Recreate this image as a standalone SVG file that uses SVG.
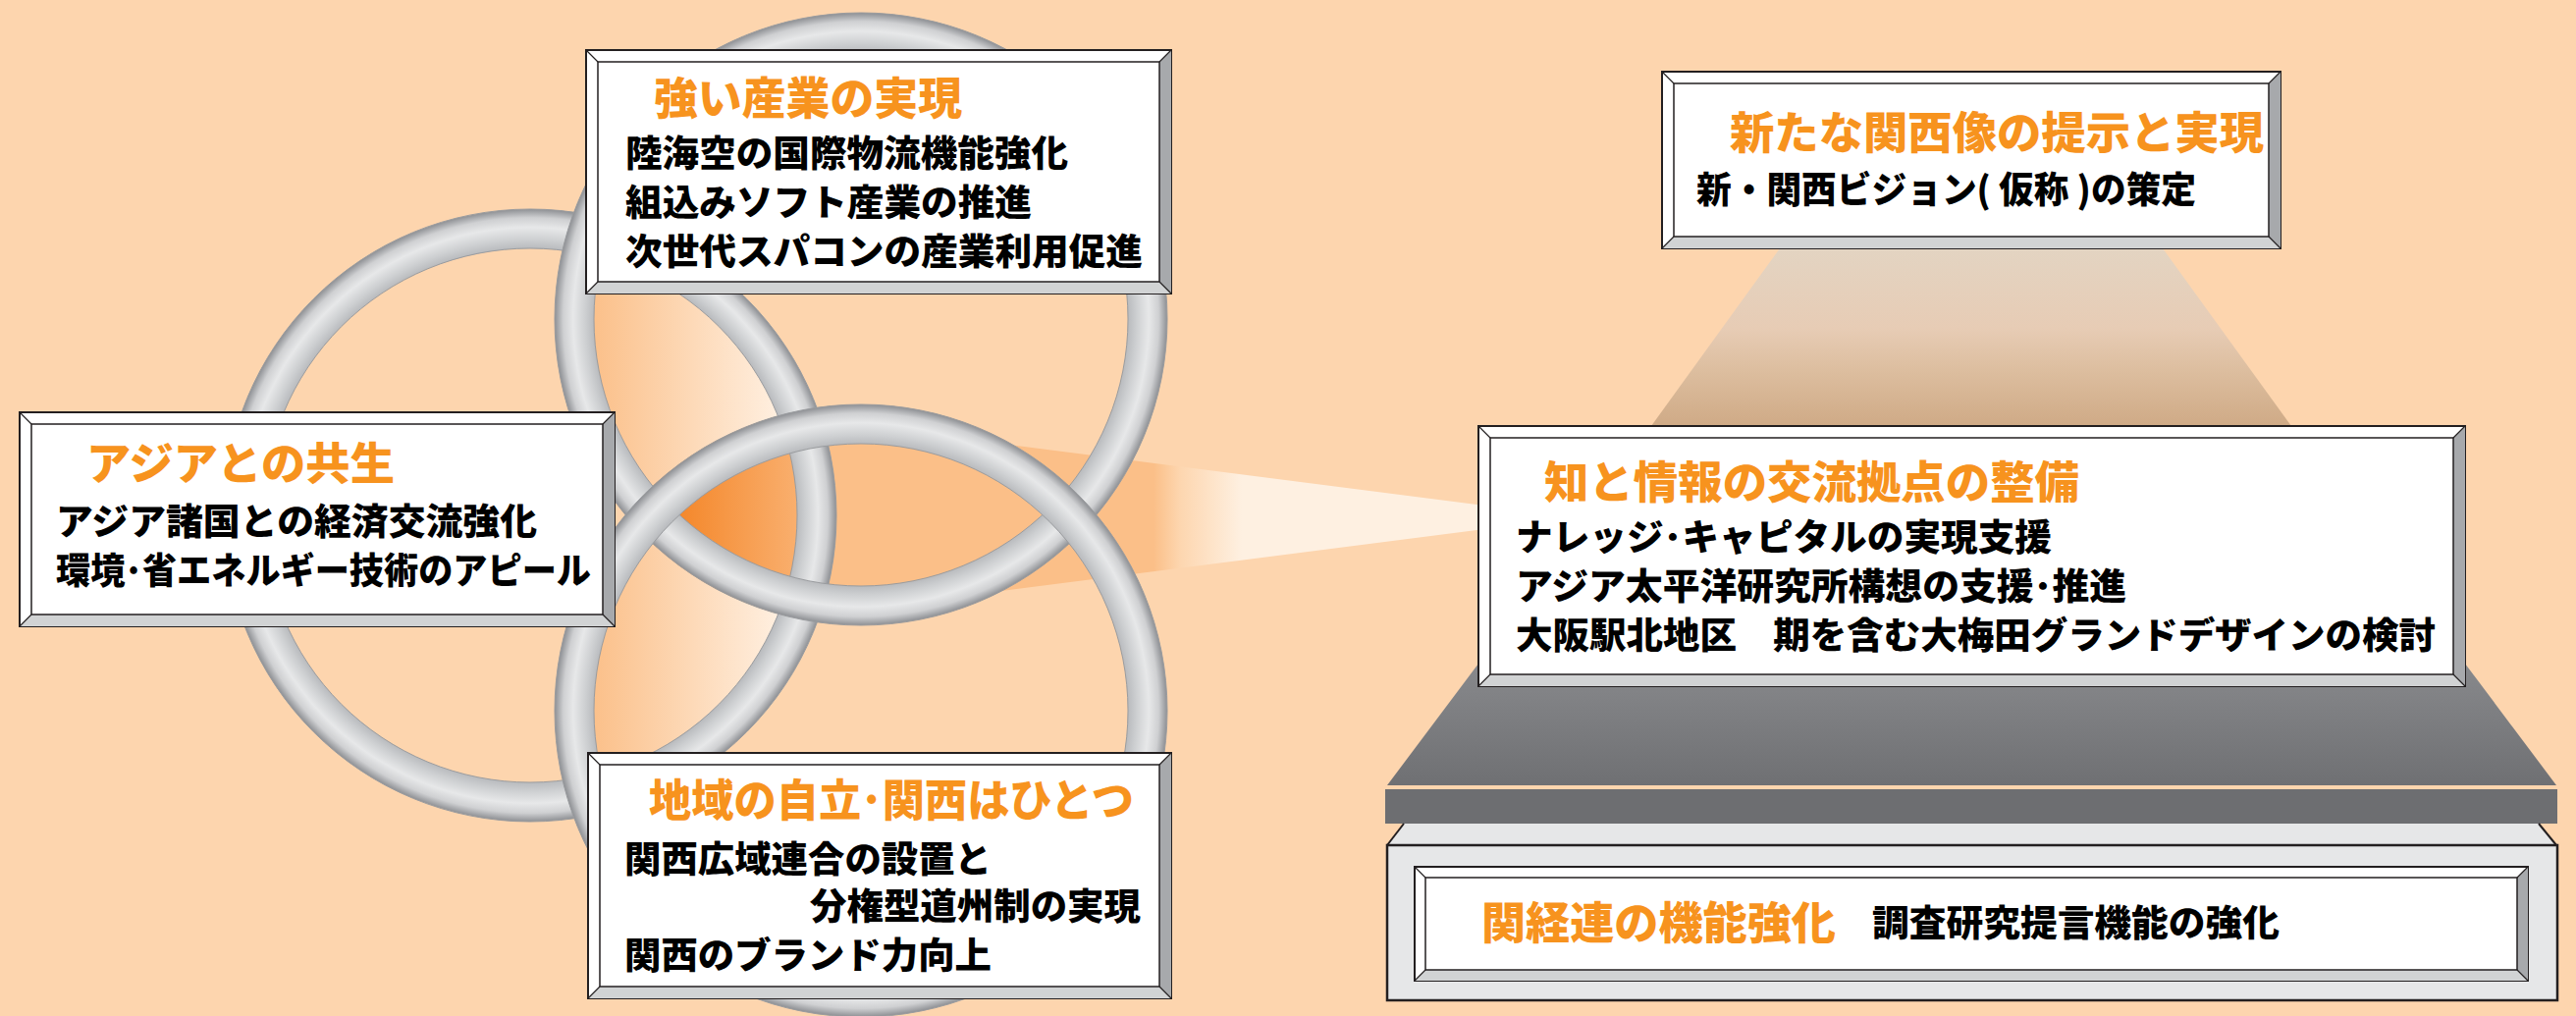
<svg xmlns="http://www.w3.org/2000/svg" width="2624" height="1035" viewBox="0 0 2624 1035">
<defs>
<style>
.frame{fill:#fff;stroke:#231f20;stroke-width:2}
.bevr{fill:#a7a9ac}
.bevb{fill:#d1d3d4}
.inner{fill:#fff;stroke:#231f20;stroke-width:1.5}
.diag{stroke:#231f20;stroke-width:1.2}
.t{font-family:"Noto Sans CJK JP","Noto Sans CJK SC",sans-serif;font-weight:900}
.ttl{fill:#F7931E;font-size:45px}
.txt{fill:#000;font-size:37px}
.ring{fill:none;stroke:url(#ringG);stroke-width:40}
.rline{fill:none;stroke:#9a9c9f;stroke-width:1}
</style>
<radialGradient id="ringG" cx="0.5" cy="0.5" r="0.5342">
<stop offset="0.872" stop-color="#b9bbbe"/>
<stop offset="0.9" stop-color="#cdcfd1"/>
<stop offset="0.94" stop-color="#e7e8e9"/>
<stop offset="0.972" stop-color="#cfd0d2"/>
<stop offset="1" stop-color="#8e9094"/>
</radialGradient>
<linearGradient id="lensLight" gradientUnits="userSpaceOnUse" x1="600" y1="0" x2="805" y2="0">
<stop offset="0" stop-color="#FBBF88"/>
<stop offset="1" stop-color="#FFF2E5"/>
</linearGradient>
<linearGradient id="lensDeep" gradientUnits="userSpaceOnUse" x1="690" y1="0" x2="812" y2="0">
<stop offset="0" stop-color="#F4872A"/>
<stop offset="1" stop-color="#F9AF6E"/>
</linearGradient>
<linearGradient id="beamG" gradientUnits="userSpaceOnUse" x1="1175" y1="0" x2="1265" y2="0">
<stop offset="0" stop-color="#FBBF88"/>
<stop offset="0.3" stop-color="#FDD6AF"/>
<stop offset="1" stop-color="#FEF0E1"/>
</linearGradient>
<linearGradient id="tanG" gradientUnits="userSpaceOnUse" x1="0" y1="253" x2="0" y2="434">
<stop offset="0" stop-color="#E3D4C2"/>
<stop offset="0.45" stop-color="#E7CCB5"/>
<stop offset="0.7" stop-color="#DCBD9E"/>
<stop offset="1" stop-color="#CFAA86"/>
</linearGradient>
<linearGradient id="grayG" gradientUnits="userSpaceOnUse" x1="0" y1="660" x2="0" y2="800">
<stop offset="0" stop-color="#8B8C8F"/>
<stop offset="1" stop-color="#6F7073"/>
</linearGradient>
<clipPath id="cTop"><circle cx="877" cy="325" r="312"/></clipPath>
<clipPath id="cBot"><circle cx="877" cy="724" r="312"/></clipPath>
</defs>

<rect x="0" y="0" width="2624" height="1035" fill="#FDD5AE"/>

<g id="connectors">
<polygon points="880,434 1512,515 1512,539 880,620" fill="url(#beamG)"/>
</g>

<g id="venn">
<g clip-path="url(#cTop)"><circle cx="877" cy="724" r="312" fill="#FBBF88"/></g>
<g clip-path="url(#cTop)"><circle cx="540" cy="525" r="312" fill="url(#lensLight)"/></g>
<g clip-path="url(#cBot)"><circle cx="540" cy="525" r="312" fill="url(#lensLight)"/></g>
<g clip-path="url(#cTop)"><g clip-path="url(#cBot)"><circle cx="540" cy="525" r="312" fill="url(#lensDeep)"/></g></g>
<g id="ring-left">
<circle class="ring" cx="540" cy="525" r="292"/>
<circle class="rline" cx="540" cy="525" r="312"/>
<circle class="rline" cx="540" cy="525" r="272"/>
</g>
<g id="ring-top">
<circle class="ring" cx="877" cy="325" r="292"/>
<circle class="rline" cx="877" cy="325" r="312"/>
<circle class="rline" cx="877" cy="325" r="272"/>
</g>
<g id="ring-bottom">
<circle class="ring" cx="877" cy="724" r="292"/>
<circle class="rline" cx="877" cy="724" r="312"/>
<circle class="rline" cx="877" cy="724" r="272"/>
</g>
</g>

<g id="platform">
<polygon points="1813,253 2203,253 2334,434 1682,434" fill="url(#tanG)"/>
<polygon points="1518,660 2499,660 2604,800 1413,800" fill="url(#grayG)"/>
<rect x="1411" y="804" width="1194" height="35" fill="#6D6E71"/>
<polygon points="1430,839 2586,839 2604,861 1413,861" fill="#E6E7E8"/>
<line x1="1430" y1="839" x2="1413" y2="861" stroke="#231f20" stroke-width="2"/>
<line x1="2586" y1="839" x2="2604" y2="861" stroke="#231f20" stroke-width="2"/>
<rect x="1413" y="861" width="1192" height="158" fill="#E6E7E8" stroke="#231f20" stroke-width="2.5"/>
</g>

<g id="node-industry">
<rect class="frame" x="597" y="51" width="596" height="248"/>
<polygon class="bevr" points="1193,51 1193,299 1181,287 1181,63"/>
<polygon class="bevb" points="597,299 1193,299 1181,287 609,287"/>
<rect class="inner" x="609" y="63" width="572" height="224"/>
<path class="diag" d="M597,51L609,63M1193,51L1181,63M597,299L609,287M1193,299L1181,287"/>
<text class="t ttl" x="666" y="117" textLength="314" lengthAdjust="spacingAndGlyphs">強い産業の実現</text>
<text class="t txt" x="637" y="170" textLength="451" lengthAdjust="spacingAndGlyphs">陸海空の国際物流機能強化</text>
<text class="t txt" x="637" y="220" textLength="414" lengthAdjust="spacingAndGlyphs">組込みソフト産業の推進</text>
<text class="t txt" x="637" y="270" textLength="527" lengthAdjust="spacingAndGlyphs">次世代スパコンの産業利用促進</text>
</g>

<g id="node-asia">
<rect class="frame" x="20" y="420" width="606" height="218"/>
<polygon class="bevr" points="626,420 626,638 614,626 614,432"/>
<polygon class="bevb" points="20,638 626,638 614,626 32,626"/>
<rect class="inner" x="32" y="432" width="582" height="194"/>
<path class="diag" d="M20,420L32,432M626,420L614,432M20,638L32,626M626,638L614,626"/>
<text class="t ttl" x="88" y="489" textLength="314" lengthAdjust="spacingAndGlyphs">アジアとの共生</text>
<text class="t txt" x="57" y="545" textLength="490" lengthAdjust="spacingAndGlyphs">アジア諸国との経済交流強化</text>
<text class="t txt" x="57" y="595" textLength="545" lengthAdjust="spacingAndGlyphs">環境･省エネルギー技術のアピール</text>
</g>

<g id="node-region">
<rect class="frame" x="599" y="767" width="594" height="250"/>
<polygon class="bevr" points="1193,767 1193,1017 1181,1005 1181,779"/>
<polygon class="bevb" points="599,1017 1193,1017 1181,1005 611,1005"/>
<rect class="inner" x="611" y="779" width="570" height="226"/>
<path class="diag" d="M599,767L611,779M1193,767L1181,779M599,1017L611,1005M1193,1017L1181,1005"/>
<text class="t ttl" x="661" y="832" textLength="494" lengthAdjust="spacingAndGlyphs">地域の自立･関西はひとつ</text>
<text class="t txt" x="636" y="889" textLength="374" lengthAdjust="spacingAndGlyphs">関西広域連合の設置と</text>
<text class="t txt" x="825" y="937" textLength="337" lengthAdjust="spacingAndGlyphs">分権型道州制の実現</text>
<text class="t txt" x="636" y="987" textLength="374" lengthAdjust="spacingAndGlyphs">関西のブランド力向上</text>
</g>

<g id="node-vision">
<rect class="frame" x="1693" y="73" width="630" height="180"/>
<polygon class="bevr" points="2323,73 2323,253 2311,241 2311,85"/>
<polygon class="bevb" points="1693,253 2323,253 2311,241 1705,241"/>
<rect class="inner" x="1705" y="85" width="606" height="156"/>
<path class="diag" d="M1693,73L1705,85M2323,73L2311,85M1693,253L1705,241M2323,253L2311,241"/>
<text class="t ttl" x="1762" y="152" textLength="544" lengthAdjust="spacingAndGlyphs">新たな関西像の提示と実現</text>
<text class="t txt" x="1728" y="207" textLength="509" lengthAdjust="spacingAndGlyphs">新・関西ビジョン( 仮称 )の策定</text>
</g>

<g id="node-knowledge">
<rect class="frame" x="1506" y="434" width="1005" height="265"/>
<polygon class="bevr" points="2511,434 2511,699 2499,687 2499,446"/>
<polygon class="bevb" points="1506,699 2511,699 2499,687 1518,687"/>
<rect class="inner" x="1518" y="446" width="981" height="241"/>
<path class="diag" d="M1506,434L1518,446M2511,434L2499,446M1506,699L1518,687M2511,699L2499,687"/>
<text class="t ttl" x="1573" y="508" textLength="545" lengthAdjust="spacingAndGlyphs">知と情報の交流拠点の整備</text>
<text class="t txt" x="1544" y="561" textLength="546" lengthAdjust="spacingAndGlyphs">ナレッジ･キャピタルの実現支援</text>
<text class="t txt" x="1544" y="611" textLength="622" lengthAdjust="spacingAndGlyphs">アジア太平洋研究所構想の支援･推進</text>
<text class="t txt" x="1544" y="661" textLength="937" lengthAdjust="spacingAndGlyphs">大阪駅北地区　期を含む大梅田グランドデザインの検討</text>
</g>

<g id="node-kankeiren">
<rect class="frame" x="1441" y="883" width="1134" height="116"/>
<polygon class="bevr" points="2575,883 2575,999 2564,988 2564,894"/>
<polygon class="bevb" points="1441,999 2575,999 2564,988 1452,988"/>
<rect class="inner" x="1452" y="894" width="1112" height="94"/>
<path class="diag" d="M1441,883L1452,894M2575,883L2564,894M1441,999L1452,988M2575,999L2564,988"/>
<text class="t ttl" x="1509" y="957" textLength="361" lengthAdjust="spacingAndGlyphs">関経連の機能強化</text>
<text class="t txt" x="1907" y="954" textLength="415" lengthAdjust="spacingAndGlyphs">調査研究提言機能の強化</text>
</g>
</svg>
